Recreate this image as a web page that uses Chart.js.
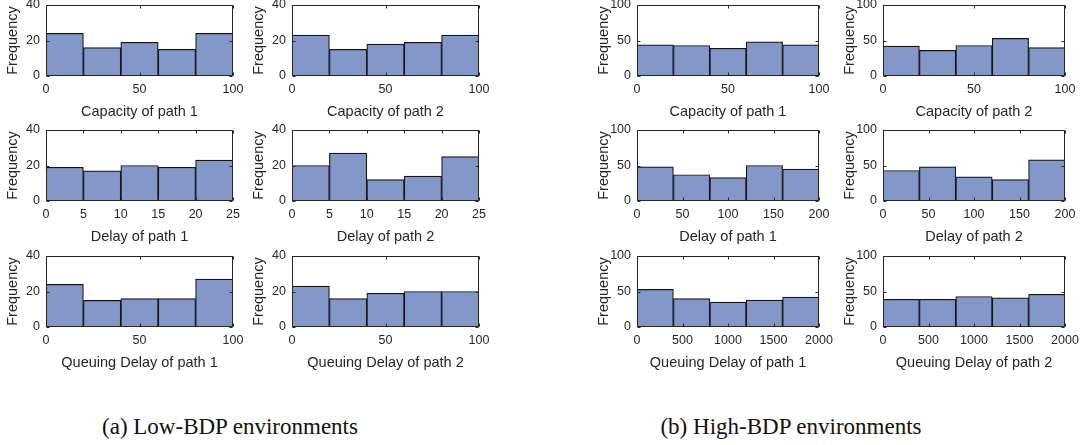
<!DOCTYPE html>
<html>
<head>
<meta charset="utf-8">
<script src="https://cdn.jsdelivr.net/npm/chart.js@4.4.1/dist/chart.umd.min.js"></script>
<style>
  html, body { margin: 0; padding: 0; background: #fff; }
  body { width: 1082px; height: 445px; position: relative; overflow: hidden; }
  canvas { position: absolute; }
  .caption {
    position: absolute; white-space: nowrap; transform: translateX(-50%);
    font-family: "Liberation Serif", "Times New Roman", serif; font-size: 23px;
    line-height: 26px; color: #111;
  }
</style>
</head>
<body>
<div class="caption" style="left:230px; top:414px">(a) Low-BDP environments</div>
<div class="caption" style="left:791px; top:414px">(b) High-BDP environments</div>
<script>
// ---- bin edges ----
const capacityBins   = [0, 20, 40, 60, 80, 100];
const lowDelayBins   = [0, 5, 10, 15, 20, 25];
const lowQueueBins   = [0, 20, 40, 60, 80, 100];
const highDelayBins  = [0, 40, 80, 120, 160, 200];
const highQueueBins  = [0, 400, 800, 1200, 1600, 2000];

// ---- tick labels ----
const ticks100   = [0, 50, 100];
const ticks25    = [0, 5, 10, 15, 20, 25];
const ticks200   = [0, 50, 100, 150, 200];
const ticks2000  = [0, 500, 1000, 1500, 2000];
const lowFreqTicks  = [0, 20, 40];
const highFreqTicks = [0, 50, 100];

// ---- histogram counts: low-BDP environments ----
const lowCapacity1 = [24, 16, 19, 15, 24];
const lowCapacity2 = [23, 15, 18, 19, 23];
const lowDelay1    = [19, 17, 20, 19, 23];
const lowDelay2    = [20, 27, 12, 14, 25];
const lowQueuing1  = [24, 15, 16, 16, 27];
const lowQueuing2  = [23, 16, 19, 20, 20];

// ---- histogram counts: high-BDP environments ----
const highCapacity1 = [44, 43, 39, 48, 44];
const highCapacity2 = [42, 36, 43, 53, 40];
const highDelay1    = [48, 37, 33, 50, 45];
const highDelay2    = [43, 48, 34, 30, 58];
const highQueuing1  = [53, 40, 35, 38, 42];
const highQueuing2  = [39, 39, 43, 41, 46];

// ---- panel grid (plot-area placement) ----
const colLeft  = [46, 292, 637, 883];
const colWidth = [187, 187, 182, 182];
const rowTop   = [5, 130, 256];
const plotH    = 71;
const padTop = 16, padRight = 24, yBand = 46, xBand = 45;

const panels = [
  { col: 0, row: 0, counts: lowCapacity1,  bins: capacityBins,  xt: ticks100,  yt: lowFreqTicks,  title: 'Capacity of path 1' },
  { col: 1, row: 0, counts: lowCapacity2,  bins: capacityBins,  xt: ticks100,  yt: lowFreqTicks,  title: 'Capacity of path 2' },
  { col: 0, row: 1, counts: lowDelay1,     bins: lowDelayBins,  xt: ticks25,   yt: lowFreqTicks,  title: 'Delay of path 1' },
  { col: 1, row: 1, counts: lowDelay2,     bins: lowDelayBins,  xt: ticks25,   yt: lowFreqTicks,  title: 'Delay of path 2' },
  { col: 0, row: 2, counts: lowQueuing1,   bins: lowQueueBins,  xt: ticks100,  yt: lowFreqTicks,  title: 'Queuing Delay of path 1' },
  { col: 1, row: 2, counts: lowQueuing2,   bins: lowQueueBins,  xt: ticks100,  yt: lowFreqTicks,  title: 'Queuing Delay of path 2' },
  { col: 2, row: 0, counts: highCapacity1, bins: capacityBins,  xt: ticks100,  yt: highFreqTicks, title: 'Capacity of path 1' },
  { col: 3, row: 0, counts: highCapacity2, bins: capacityBins,  xt: ticks100,  yt: highFreqTicks, title: 'Capacity of path 2' },
  { col: 2, row: 1, counts: highDelay1,    bins: highDelayBins, xt: ticks200,  yt: highFreqTicks, title: 'Delay of path 1' },
  { col: 3, row: 1, counts: highDelay2,    bins: highDelayBins, xt: ticks200,  yt: highFreqTicks, title: 'Delay of path 2' },
  { col: 2, row: 2, counts: highQueuing1,  bins: highQueueBins, xt: ticks2000, yt: highFreqTicks, title: 'Queuing Delay of path 1' },
  { col: 3, row: 2, counts: highQueuing2,  bins: highQueueBins, xt: ticks2000, yt: highFreqTicks, title: 'Queuing Delay of path 2' },
];

const ink = '#262626';
const tickFont  = { family: '"Liberation Sans", Arial, sans-serif', size: 12.5 };
const titleFont = { family: '"Liberation Sans", Arial, sans-serif', size: 14.5 };
const plain = v => String(v);

// axes box with inward tick marks on all four sides
const frame = {
  id: 'frame',
  afterDatasetsDraw(chart) {
    const { ctx, chartArea: a, scales: { x, y } } = chart;
    const L = Math.round(a.left) + 0.5, R = Math.round(a.right) - 0.5;
    const T = Math.round(a.top) + 0.5,  B = Math.round(a.bottom) - 0.5;
    const len = 3;
    ctx.save();
    ctx.strokeStyle = ink;
    ctx.lineWidth = 1;
    ctx.beginPath();
    x.ticks.forEach(t => {
      const p = Math.round(x.getPixelForValue(t.value)) + 0.5;
      ctx.moveTo(p, B); ctx.lineTo(p, B - len);
      ctx.moveTo(p, T); ctx.lineTo(p, T + len);
    });
    y.ticks.forEach(t => {
      const p = Math.round(y.getPixelForValue(t.value)) + 0.5;
      ctx.moveTo(L, p); ctx.lineTo(L + len, p);
      ctx.moveTo(R, p); ctx.lineTo(R - len, p);
    });
    ctx.stroke();
    ctx.strokeRect(L, T, R - L, B - T);
    ctx.restore();
  }
};

panels.forEach(p => {
  const w = colWidth[p.col];
  const cv = document.createElement('canvas');
  cv.width = yBand + w + padRight;
  cv.height = padTop + plotH + xBand;
  cv.style.left = (colLeft[p.col] - yBand) + 'px';
  cv.style.top = (rowTop[p.row] - padTop) + 'px';
  cv.style.width = cv.width + 'px';
  cv.style.height = cv.height + 'px';
  document.body.appendChild(cv);

  const data = p.counts.map((v, i) => ({ x: (p.bins[i] + p.bins[i + 1]) / 2, y: v }));
  const xMin = p.bins[0], xMax = p.bins[p.bins.length - 1];
  const yMax = p.yt[p.yt.length - 1];

  new Chart(cv, {
    type: 'bar',
    data: {
      datasets: [{
        data,
        backgroundColor: '#8497c9',
        borderColor: '#141414',
        borderWidth: 1.2,
        borderSkipped: false,
        barPercentage: 1,
        categoryPercentage: 1
      }]
    },
    options: {
      responsive: false,
      animation: false,
      devicePixelRatio: 1,
      events: [],
      layout: { padding: { top: padTop, right: padRight, left: 0, bottom: 0 } },
      plugins: { legend: { display: false }, tooltip: { enabled: false } },
      scales: {
        x: {
          type: 'linear', min: xMin, max: xMax, offset: false,
          grid: { display: false, drawTicks: false },
          border: { display: false },
          afterBuildTicks: s => { s.ticks = p.xt.map(v => ({ value: v })); },
          afterFit: s => { s.height = xBand; },
          ticks: { color: ink, font: tickFont, padding: 6, maxRotation: 0, autoSkip: false, callback: plain },
          title: { display: true, text: p.title, color: ink, font: titleFont, padding: { top: 0, bottom: 0 } }
        },
        y: {
          min: 0, max: yMax,
          grid: { display: false, drawTicks: false },
          border: { display: false },
          afterBuildTicks: s => { s.ticks = p.yt.map(v => ({ value: v })); },
          afterFit: s => { s.width = yBand; },
          ticks: { color: ink, font: tickFont, padding: 6, callback: plain },
          title: { display: true, text: 'Frequency', color: ink, font: titleFont, padding: { top: 4, bottom: 0 } }
        }
      }
    },
    plugins: [frame]
  });
});
</script>
</body>
</html>
